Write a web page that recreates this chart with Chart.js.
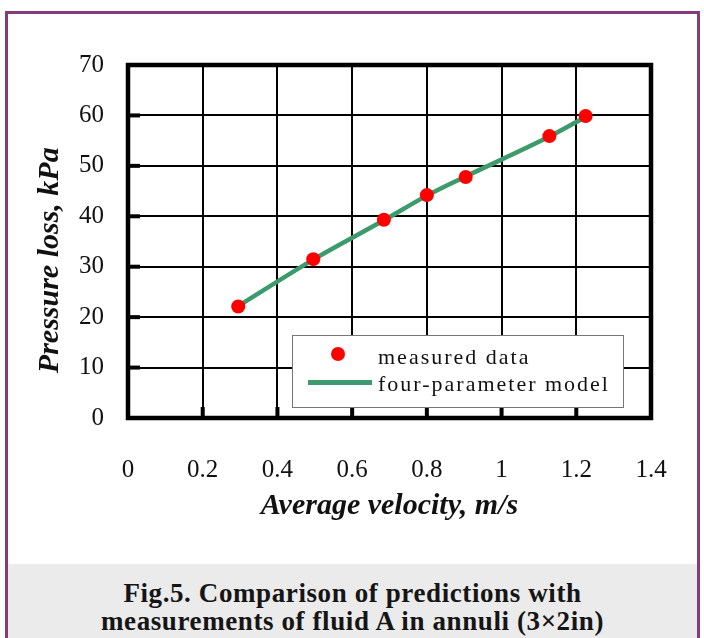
<!DOCTYPE html>
<html>
<head>
<meta charset="utf-8">
<script src="https://cdn.jsdelivr.net/npm/chart.js@4.4.1/dist/chart.umd.min.js"></script>
<style>
html,body{margin:0;padding:0;background:#fff}
#wrap{position:relative;width:704px;height:638px;overflow:hidden;background:#fff}
#grafico{position:absolute;left:0;top:0}
#frame{position:absolute;left:5px;top:11px;width:689px;height:660px;border:3px solid #873a7b}
#caption{position:absolute;left:8px;top:564px;width:689px;height:74px;background:#ebebeb;
font-family:"Liberation Serif",serif;font-weight:bold;font-size:27px;line-height:28px;letter-spacing:0.6px;text-align:center;
color:#151515;padding-top:15px;box-sizing:border-box}
</style>
</head>
<body>
<div id="wrap">
<canvas id="grafico" width="704" height="560"></canvas>
<div id="frame"></div>
<div id="caption">Fig.5. Comparison of predictions with<br>measurements of fluid A in annuli (3×2in)</div>
</div>
<script>
// valores
const velocidade=[0.295,0.496,0.685,0.80,0.904,1.128,1.225]
const pressao=[22.1,31.5,39.3,44.2,47.8,55.9,59.9]

// curva do modelo (passa pelos mesmos pontos)
const velModelo=[0.295,0.496,0.685,0.80,0.904,1.128,1.225]
const pressModelo=[22.2,31.4,39.2,44.1,47.9,55.8,59.7]

const ticksX=[0,0.2,0.4,0.6,0.8,1,1.2,1.4]
const ticksY=[0,10,20,30,40,50,60,70]

const legendas=["measured data","four-parameter model"]

const verde="#3c9a6c"
const serif="'Liberation Serif', serif"

// moldura grossa e marcas internas
const moldura={
id:"moldura",
beforeDatasetsDraw(chart){
const {ctx,chartArea:a,scales:{x,y}}=chart
ctx.save()
ctx.strokeStyle="#000"
ctx.lineWidth=4
ticksY.forEach(v=>{
const py=y.getPixelForValue(v)
ctx.beginPath();ctx.moveTo(a.left,py);ctx.lineTo(a.left+12,py);ctx.stroke()
})
ticksX.forEach(v=>{
const px=x.getPixelForValue(v)
ctx.beginPath();ctx.moveTo(px,a.bottom);ctx.lineTo(px,a.bottom-11);ctx.stroke()
})
ctx.lineWidth=4.5
ctx.strokeRect(a.left,a.top,a.right-a.left,a.bottom-a.top)
ctx.restore()
}
}

// legenda com fundo branco dentro do grafico
const legenda={
id:"legenda",
afterDatasetsDraw(chart){
const ctx=chart.ctx
const ds=chart.data.datasets
ctx.save()
ctx.fillStyle="#fff"
ctx.fillRect(292,335,331,72)
ctx.strokeStyle="#777"
ctx.lineWidth=1
ctx.strokeRect(292.5,335.5,331,72)
// marcador
ctx.fillStyle=ds[0].backgroundColor
ctx.beginPath();ctx.arc(338,354,7,0,Math.PI*2);ctx.fill()
ctx.strokeStyle=ds[1].borderColor
ctx.lineWidth=5
ctx.beginPath();ctx.moveTo(308,382.5);ctx.lineTo(372,382.5);ctx.stroke()
ctx.fillStyle="#111"
ctx.font="22px "+serif
ctx.letterSpacing="2px"
ctx.textBaseline="alphabetic"
ctx.fillText(ds[0].label,378,364)
ctx.fillText(ds[1].label,378,391)
ctx.restore()
}
}

let grafico=new Chart(document.getElementById("grafico"),{
type:"scatter",
data:{
datasets:[{
label:legendas[0],
data:velocidade.map((v,i)=>({x:v,y:pressao[i]})),
backgroundColor:"#ff0000",
borderColor:"#ff0000",
pointRadius:7,
pointBorderWidth:0
},{
label:legendas[1],
data:velModelo.map((v,i)=>({x:v,y:pressModelo[i]})),
showLine:true,
borderColor:verde,
backgroundColor:verde,
borderWidth:4.5,
pointRadius:0,
cubicInterpolationMode:"monotone"
}]
},
options:{
responsive:false,
animation:false,
layout:{padding:{top:65,right:53,left:0,bottom:0}},
plugins:{legend:{display:false},tooltip:{enabled:false}},
scales:{
x:{
type:"linear",min:0,max:1.4,
afterFit:s=>{s.height=142},
afterBuildTicks:s=>{s.ticks=ticksX.map(v=>({value:v}))},
grid:{color:"#000",lineWidth:2,drawTicks:false},
border:{display:false},
ticks:{color:"#111",padding:37,font:{family:serif,size:25},callback:v=>String(v)},
title:{display:true,text:"Average velocity, m/s",color:"#111",
font:{family:serif,size:30,weight:"bold",style:"italic"},padding:{top:0,bottom:36}}
},
y:{
min:0,max:70,
afterFit:s=>{s.width=128},
afterBuildTicks:s=>{s.ticks=ticksY.map(v=>({value:v}))},
grid:{color:"#000",lineWidth:2,drawTicks:false},
border:{display:false},
ticks:{color:"#111",padding:24,font:{family:serif,size:25}},
title:{display:true,text:"Pressure loss, kPa     ",color:"#111",
font:{family:serif,size:30,weight:"bold",style:"italic"},padding:{top:32,bottom:0}}
}
}
},
plugins:[moldura,legenda]
})
</script>
</body>
</html>
